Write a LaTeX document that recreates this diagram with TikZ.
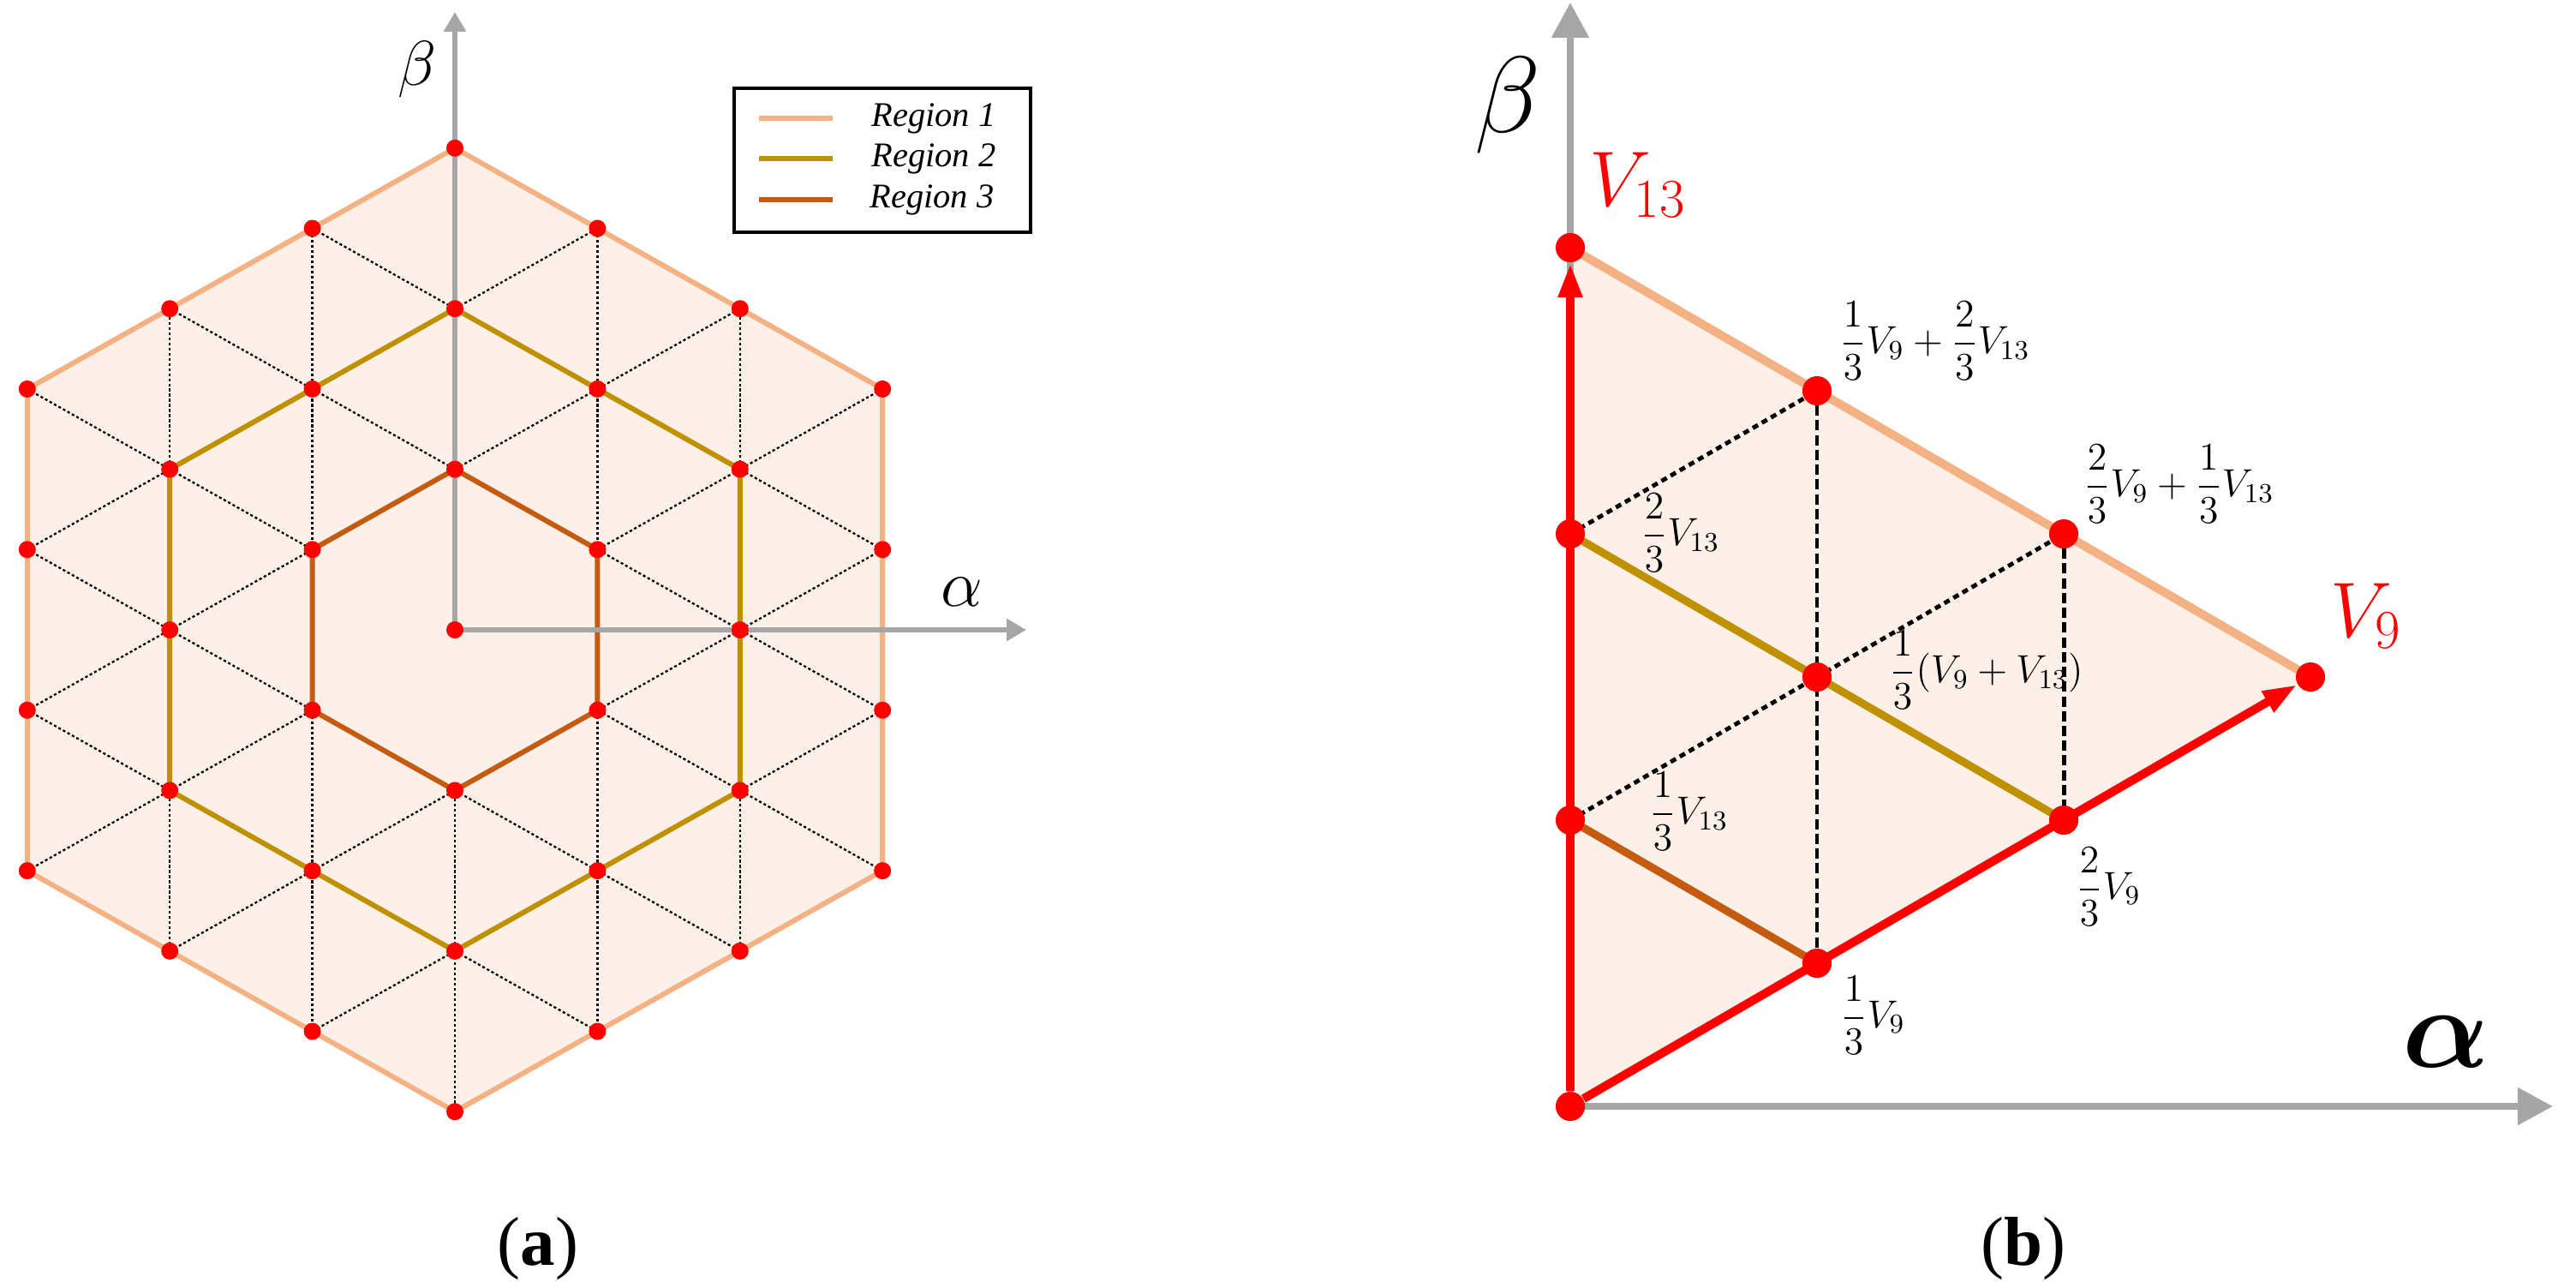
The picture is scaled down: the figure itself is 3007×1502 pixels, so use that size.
\RequirePackage{fix-cm}
\documentclass[tikz,border=0pt]{standalone}
\usepackage{amsmath}
\usepackage{fontspec}
\setmainfont{Liberation Serif}
\usetikzlibrary{arrows.meta}

\definecolor{regone}{HTML}{F4B183}
\definecolor{regtwo}{HTML}{BF9000}
\definecolor{regthree}{HTML}{C55A11}
\definecolor{hexfill}{HTML}{FDF0E8}
\definecolor{axisgray}{HTML}{A6A6A6}

% lattice steps of panel (a)
\newcommand\hx{166.4}
\newcommand\hy{93.7}
\newcommand\hexpath[1]{(0,-2*#1*\hy) -- (#1*\hx,-#1*\hy) -- (#1*\hx,#1*\hy) -- (0,2*#1*\hy) -- (-#1*\hx,#1*\hy) -- (-#1*\hx,-#1*\hy) -- cycle}

\begin{document}
\begin{tikzpicture}[
  x=0.01cm, y=-0.01cm,
  ax/.style={draw=axisgray, line width=1.7pt, -{Triangle[length=6.5pt,width=7.1pt]}},
  bx/.style={draw=axisgray, line width=2.3pt, -{Triangle[length=11.7pt,width=12pt]}},
  vec/.style={draw=red, line width=2.85pt, -{Triangle[length=11.4pt,width=7.4pt]}},
  grid/.style={line width=0.65pt, dash pattern=on 0.9pt off 0.8pt},
  vdash/.style={line width=1.4pt, dash pattern=on 3.4pt off 1.5pt},
  ddash/.style={line width=1.4pt, dash pattern=on 2pt off 1.5pt},
  dotb/.style={circle, fill=red, inner sep=0pt, minimum size=9.7pt},
  lbl/.style={inner sep=0pt, font=\fontsize{13}{15}\selectfont},
  legtxt/.style={font=\fontsize{11.5}{13}\selectfont\itshape}
]
\useasboundingbox (0,0) rectangle (3007,1502);

% ---- panel (a)
\begin{scope}[shift={(531,735)}]
  \fill[hexfill] \hexpath{3};
  \begin{scope}
    \clip \hexpath{3};
    \foreach \k in {-2,...,2} \draw[grid] (\k*\hx,-700) -- (\k*\hx,700);
    \foreach \m in {-3,...,3} {
      \draw[grid] (-3*\hx,{(2*\m+3)*\hy}) -- (3*\hx,{(2*\m-3)*\hy});
      \draw[grid] (-3*\hx,{(2*\m-3)*\hy}) -- (3*\hx,{(2*\m+3)*\hy});
    }
  \end{scope}
  \fill[hexfill] \hexpath{1};
  \draw[regone, line width=1.7pt] \hexpath{3};
  \draw[regtwo, line width=1.7pt] \hexpath{2};
  \draw[regthree, line width=1.7pt] \hexpath{1};
  \coordinate (oa) at (0,0);
  \coordinate (betaa) at (0,-721);
  \coordinate (alphaa) at (667,0);
  \draw[ax] (oa) -- (betaa);
  \draw[ax] (oa) -- (alphaa);
  \foreach \i in {-3,...,3}
    \foreach \j in {-3,...,3} {
      \pgfmathtruncatemacro{\hd}{max(abs(\i),abs(\j),abs(\i+\j))}
      \ifnum\hd<4 \fill[red] ({\i*\hx},{-(\i+2*\j)*\hy}) circle[radius=10]; \fi
    }
\end{scope}
\node[font=\fontsize{21}{24}\selectfont] (betaa-lbl) at (487,81) {$\beta$};
\node[font=\fontsize{22}{25}\selectfont] (alphaa-lbl) at (1123,691) {$\alpha$};

% legend
\draw[line width=1pt, fill=white] (857,103) rectangle (1203,271);
\draw[regone, line width=1.7pt] (886,138) -- (972,138);
\draw[regtwo, line width=1.7pt] (886,185) -- (972,185);
\draw[regthree, line width=1.7pt] (886,233) -- (972,233);
\node[legtxt] (lg1) at (1090,138) {Region 1};
\node[legtxt] (lg2) at (1090,185) {Region 2};
\node[legtxt] (lg3) at (1088,233) {Region 3};

% ---- panel (b)
\begin{scope}[shift={(1833,1291)}]
  \coordinate (b00) at (0,0);
  \coordinate (b10) at (288,-167);
  \coordinate (b20) at (576,-334);
  \coordinate (b30) at (864,-501);
  \coordinate (b01) at (0,-334);
  \coordinate (b02) at (0,-668);
  \coordinate (b03) at (0,-1002);
  \coordinate (b11) at (288,-501);
  \coordinate (b12) at (288,-835);
  \coordinate (b21) at (576,-668);
  \coordinate (alphab) at (1147,0);
  \coordinate (betab) at (0,-1288);
  \fill[hexfill] (b00) -- (b30) -- (b03) -- cycle;
  \draw[vdash] (b12) -- (b10);
  \draw[vdash] (b21) -- (b20);
  \draw[ddash] (b02) -- (b12);
  \draw[ddash] (b01) -- (b21);
  \draw[regtwo, line width=2.6pt] (b02) -- (b20);
  \draw[regthree, line width=2.6pt] (b01) -- (b10);
  \draw[regone, line width=2.85pt] (b03) -- (b30);
  \draw[bx] (b00) -- (alphab);
  \draw[bx] (b00) -- (betab);
  \foreach \p in {b00,b10,b20,b30,b01,b02,b03,b11,b12,b21}
    \node[dotb] (n\p) at (\p) {};
  \draw[vec] (nb00) -- (nb03);
  \draw[vec] (nb00) -- (nb30);
\end{scope}
\node[font=\fontsize{36}{40}\selectfont] (betab-lbl) at (1760,123) {$\beta$};
\node[font=\fontsize{38}{42}\selectfont] (alphab-lbl) at (2855,1216) {$\boldsymbol{\alpha}$};
\node[red, inner sep=0pt, anchor=base west, font=\fontsize{26}{30}\selectfont] (v13-lbl) at (1855,240) {$V_{13}$};
\node[red, inner sep=0pt, anchor=base west, font=\fontsize{26}{30}\selectfont] (v9-lbl) at (2720,743) {$V_{9}$};

\node[lbl, anchor=north west] (l10) at (2148,1138) {$\dfrac{1}{3}V_9$};
\node[lbl, anchor=north west] (l20) at (2423,988) {$\dfrac{2}{3}V_9$};
\node[lbl, anchor=west] (l01) at (1925,947) {$\dfrac{1}{3}V_{13}$};
\node[lbl, anchor=west] (l02) at (1915,622) {$\dfrac{2}{3}V_{13}$};
\node[lbl, anchor=west] (l11) at (2205,782) {$\dfrac{1}{3}(V_9+V_{13})$};
\node[lbl, anchor=west] (l21) at (2432,565) {$\dfrac{2}{3}V_9+\dfrac{1}{3}V_{13}$};
\node[lbl, anchor=west] (l12) at (2147,398) {$\dfrac{1}{3}V_9+\dfrac{2}{3}V_{13}$};

% captions
\node[font=\fontsize{23}{26}\selectfont] (capa) at (628,1457) {(\textbf{a})};
\node[font=\fontsize{23}{26}\selectfont] (capb) at (2362,1457) {(\textbf{b})};
\end{tikzpicture}
\end{document}
